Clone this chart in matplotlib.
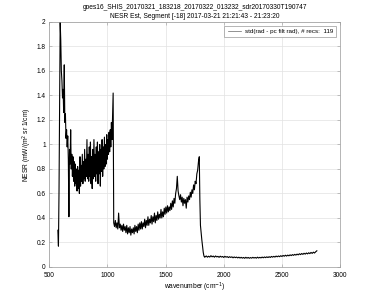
import numpy as np
import matplotlib
matplotlib.use("Agg")
import matplotlib.pyplot as plt
from matplotlib.ticker import FormatStrFormatter

# band 1 (longwave), 5 cm-1 spacing starting at 575
band1_start, band1_step = 575, 5
band1_nesr = [
    0.30, 0.17, 0.62, 1.30, 2.00, 1.85, 1.60, 1.52, 1.38, 1.45,
    1.26, 1.65, 1.18, 1.25, 1.05, 1.12, 0.98, 1.07, 0.88, 0.41,
    0.96, 0.84, 1.12, 0.80, 0.92, 0.74, 0.90, 0.70, 0.86, 0.66,
    0.84, 0.68, 0.80, 0.62, 0.82, 0.64, 0.79, 0.60, 0.90, 0.66,
    0.83, 0.70, 0.92, 0.68, 0.86, 0.72, 0.96, 0.70, 0.88, 0.74,
    1.04, 0.72, 0.92, 0.70, 0.98, 0.74, 1.02, 0.68, 0.90, 0.64,
    0.96, 0.72, 1.04, 0.74, 0.92, 0.70, 0.98, 0.76, 1.02, 0.68,
    0.94, 0.76, 1.00, 0.66, 0.96, 0.78, 1.04, 0.74, 0.98, 0.80,
    1.06, 0.82, 1.00, 0.84, 1.08, 0.88, 1.04, 0.92, 1.10, 0.94,
    1.12, 0.98, 1.18, 1.04, 1.24, 1.42,
]

# band 2 (midwave), 7 cm-1 spacing starting at 1055
band2_start, band2_step = 1055, 7
band2_nesr = [
    0.36, 0.33, 0.38, 0.32, 0.36, 0.31, 0.44, 0.32, 0.35, 0.30,
    0.34, 0.29, 0.35, 0.30, 0.33, 0.28, 0.34, 0.27, 0.32, 0.28,
    0.33, 0.26, 0.31, 0.28, 0.32, 0.27, 0.34, 0.29, 0.33, 0.28,
    0.35, 0.30, 0.36, 0.31, 0.37, 0.31, 0.36, 0.33, 0.39, 0.32,
    0.38, 0.34, 0.41, 0.34, 0.39, 0.36, 0.42, 0.35, 0.41, 0.37,
    0.44, 0.36, 0.42, 0.38, 0.45, 0.39, 0.43, 0.40, 0.47, 0.40,
    0.45, 0.41, 0.48, 0.43, 0.49, 0.44, 0.50, 0.45, 0.49, 0.46,
    0.52, 0.47, 0.54, 0.49, 0.56, 0.52, 0.60, 0.64, 0.74, 0.62,
    0.58, 0.55, 0.59, 0.53, 0.57, 0.50, 0.56, 0.52, 0.55, 0.48,
    0.57, 0.53, 0.58, 0.55, 0.61, 0.57, 0.63, 0.60, 0.67, 0.63,
    0.70, 0.68, 0.76, 0.79, 0.86, 0.90,
]

# band edge roll-off between midwave and shortwave
edge_wn = [1795, 1800, 1806, 1812, 1818, 1824, 1830, 1836]
edge_nesr = [0.55, 0.34, 0.28, 0.22, 0.17, 0.12, 0.09, 0.08]

# band 3 (shortwave), 10 cm-1 spacing starting at 1840
band3_start, band3_step = 1840, 10
band3_nesr = [
    0.082, 0.090, 0.080, 0.088, 0.081, 0.092, 0.083, 0.089, 0.080, 0.090,
    0.082, 0.087, 0.079, 0.088, 0.081, 0.086, 0.078, 0.087, 0.080, 0.085,
    0.077, 0.084, 0.078, 0.083, 0.075, 0.082, 0.076, 0.081, 0.074, 0.080,
    0.073, 0.079, 0.072, 0.078, 0.071, 0.079, 0.072, 0.078, 0.071, 0.077,
    0.072, 0.079, 0.073, 0.078, 0.072, 0.080, 0.073, 0.079, 0.074, 0.081,
    0.075, 0.082, 0.076, 0.083, 0.077, 0.084, 0.078, 0.086, 0.080, 0.087,
    0.081, 0.089, 0.083, 0.090, 0.084, 0.092, 0.086, 0.094, 0.088, 0.096,
    0.089, 0.097, 0.091, 0.099, 0.093, 0.101, 0.095, 0.103, 0.097, 0.105,
    0.099, 0.108, 0.101, 0.110, 0.103, 0.112, 0.105, 0.114, 0.107, 0.116,
    0.109, 0.119, 0.111, 0.121, 0.114, 0.124, 0.132,
]

n_recs = 119
title_lines = [
    "goes16_SHIS_20170321_183218_20170322_013232_sdr20170330T190747",
    "NESR Est, Segment [-18] 2017-03-21 21:21:43 - 21:23:20",
]

wn1 = band1_start + band1_step * np.arange(len(band1_nesr))
wn2 = band2_start + band2_step * np.arange(len(band2_nesr))
wn3 = band3_start + band3_step * np.arange(len(band3_nesr))
wn = np.concatenate([wn1, wn2, edge_wn, wn3])
nesr = np.concatenate([band1_nesr, band2_nesr, edge_nesr, band3_nesr])

plt.rcParams["font.family"] = ["Liberation Sans", "DejaVu Sans"]
plt.rcParams["font.size"] = 4.5

fig = plt.figure(figsize=(3.75, 3.01), dpi=100)
ax = fig.add_axes([0.131, 0.113, 0.776, 0.814])

ax.plot(wn, nesr, color="black", linewidth=0.8,
        label="std(rad - pc filt rad), # recs:  %d" % n_recs)

ax.set_xlim(500, 3000)
ax.set_ylim(0, 2)
ax.set_xticks(np.arange(500, 3001, 500))
ax.set_yticks(np.arange(0, 2.01, 0.2))
ax.yaxis.set_major_formatter(FormatStrFormatter("%g"))
ax.grid(True, color="#e2e2e2", linewidth=0.5)
ax.tick_params(direction="in", length=2, width=0.4, color="#999999",
               top=True, right=True, labelsize=4.7)
ax.tick_params(axis="x", pad=3.5)
ax.tick_params(axis="y", pad=2.5)
for s in ax.spines.values():
    s.set_color("#999999")
    s.set_linewidth(0.5)

ax.set_xlabel("wavenumber (cm$^{-1}$)", fontsize=4.8, labelpad=1)
ax.set_ylabel("NESR (mW/(m$^2$ sr 1/cm)", fontsize=4.8, labelpad=2)
ax.set_title("\n".join(title_lines), fontsize=4.8, pad=3, linespacing=1.3)

leg = ax.legend(loc="upper right", fontsize=4.5, fancybox=False,
                framealpha=1, borderpad=0.5, handlelength=2.2,
                handletextpad=0.6, borderaxespad=0.6)
leg.get_frame().set_edgecolor("#999999")
leg.get_frame().set_linewidth(0.5)
for h in leg.get_lines():
    h.set_color("#666666")
    h.set_linewidth(0.5)

fig.savefig("out.png", dpi=100)
